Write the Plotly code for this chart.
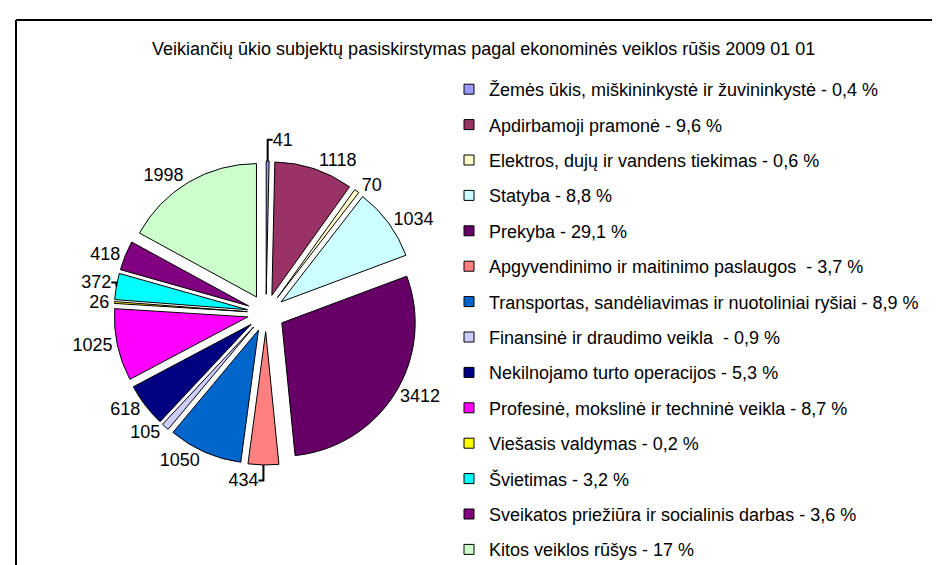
import plotly.graph_objects as go

title_text = "Veikiančių ūkio subjektų pasiskirstymas pagal ekonominės veiklos rūšis 2009 01 01"

categories = [
    "Žemės ūkis, miškininkystė ir žuvininkystė",
    "Apdirbamoji pramonė",
    "Elektros, dujų ir vandens tiekimas",
    "Statyba",
    "Prekyba",
    "Apgyvendinimo ir maitinimo paslaugos ",
    "Transportas, sandėliavimas ir nuotoliniai ryšiai",
    "Finansinė ir draudimo veikla ",
    "Nekilnojamo turto operacijos",
    "Profesinė, mokslinė ir techninė veikla",
    "Viešasis valdymas",
    "Švietimas",
    "Sveikatos priežiūra ir socialinis darbas",
    "Kitos veiklos rūšys",
]
percent_labels = ["0,4", "9,6", "0,6", "8,8", "29,1", "3,7", "8,9",
                  "0,9", "5,3", "8,7", "0,2", "3,2", "3,6", "17"]
values = [41, 1118, 70, 1034, 3412, 434, 1050, 105, 618, 1025, 26, 372, 418, 1998]
colors = ["#9999FF", "#993366", "#FFFFCC", "#CCFFFF", "#660066", "#FF8080",
          "#0066CC", "#CCCCFF", "#000080", "#FF00FF", "#FFFF00", "#00FFFF",
          "#800080", "#CCFFCC"]

W, H = 940, 565
FONT = "Liberation Sans, Arial, sans-serif"

fig = go.Figure()

# pie geometry in pixels
cx, cy, half = 258, 305, 152
fig.add_trace(go.Pie(
    labels=categories,
    values=values,
    sort=False,
    direction="clockwise",
    rotation=0,
    pull=[0.14] * len(values),
    marker=dict(colors=colors, line=dict(color="black", width=1)),
    texttemplate="%{value}",
    textposition="outside",
    outsidetextfont=dict(family=FONT, size=18, color="black"),
    showlegend=False,
    hoverinfo="label+value+percent",
    domain=dict(x=[(cx - half) / W, (cx + half) / W],
                y=[1 - (cy + half) / H, 1 - (cy - half) / H]),
))

# legend entries
for name, pct, col in zip(categories, percent_labels, colors):
    fig.add_trace(go.Scatter(
        x=[None], y=[None], mode="markers",
        marker=dict(symbol="square", size=10, color=col,
                    line=dict(color="black", width=1)),
        name=f"{name} - {pct} %",
        legendgroup=name,
        showlegend=True,
    ))

fig.update_layout(
    width=W, height=H,
    margin=dict(l=0, r=0, t=0, b=0, autoexpand=False),
    paper_bgcolor="white", plot_bgcolor="white",
    font=dict(family=FONT, size=18, color="black"),
    xaxis=dict(visible=False), yaxis=dict(visible=False),
    legend=dict(
        x=441 / W, y=1 - 63 / H, xanchor="left", yanchor="top",
        font=dict(family=FONT, size=18, color="black"),
        tracegroupgap=9, itemwidth=30, bgcolor="rgba(0,0,0,0)",
        maxheight=1.0,
    ),
    annotations=[dict(
        text=title_text, x=476 / W, y=1 - 41 / H, xref="paper", yref="paper",
        showarrow=False, xanchor="center", yanchor="middle",
        font=dict(family=FONT, size=18, color="black"),
    )],
    shapes=[
        dict(type="line", xref="paper", yref="paper", x0=8 / W, x1=1.0,
             y0=1 - 12 / H, y1=1 - 12 / H, line=dict(color="black", width=2)),
        dict(type="line", xref="paper", yref="paper", x0=8 / W, x1=8 / W,
             y0=1 - 12 / H, y1=0, line=dict(color="black", width=2)),
    ],
)

fig.write_html("out.html")
